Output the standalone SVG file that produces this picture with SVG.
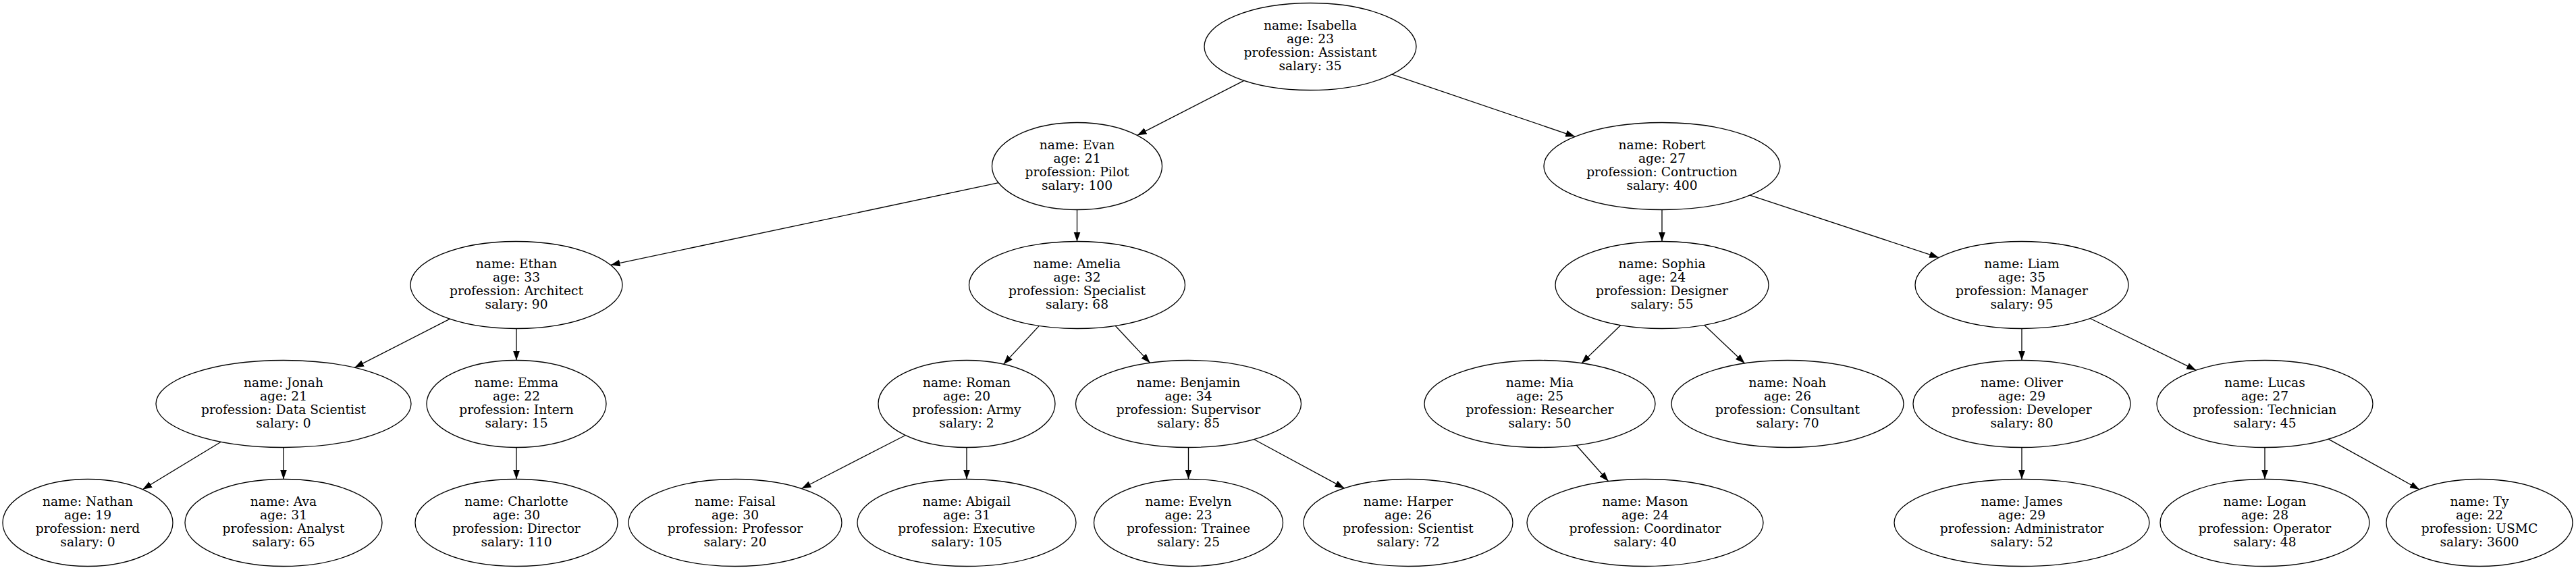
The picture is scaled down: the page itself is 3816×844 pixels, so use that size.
<svg xmlns="http://www.w3.org/2000/svg" width="3816" height="844" viewBox="0 0 3816 844">
<style>
.n ellipse{fill:none;stroke:#000;stroke-width:1.3}
.n text{font-family:"DejaVu Serif","Liberation Serif",serif;font-size:18.67px;text-anchor:middle;fill:#000}
.e line{stroke:#000;stroke-width:1.3;marker-end:url(#ah)}
</style>
<defs>
<marker id="ah" markerUnits="userSpaceOnUse" markerWidth="16" markerHeight="12" refX="14" refY="5" orient="auto"><path d="M0,0 L14,5 L0,10 z" fill="#000"/></marker>
</defs>
<rect width="3816" height="844" fill="#fff"/>
<g class="e" id="edges">
<line x1="1842.8" y1="119.3" x2="1684.6" y2="200.4"/>
<line x1="2062" y1="110.1" x2="2333.3" y2="202.3"/>
<line x1="1479.1" y1="270.7" x2="904.5" y2="392.4"/>
<line x1="1595.5" y1="310.5" x2="1595.5" y2="357.5"/>
<line x1="2462" y1="310.5" x2="2462" y2="357.5"/>
<line x1="2592.4" y1="289.1" x2="2872.1" y2="381.4"/>
<line x1="666.6" y1="472.2" x2="525.1" y2="544.4"/>
<line x1="765" y1="486.5" x2="765" y2="533.5"/>
<line x1="1539.4" y1="482.4" x2="1486.5" y2="539.4"/>
<line x1="1652.1" y1="482.3" x2="1703.7" y2="537.4"/>
<line x1="2400.8" y1="481.5" x2="2342.8" y2="537.9"/>
<line x1="2524.6" y1="481.2" x2="2584.6" y2="538"/>
<line x1="2995" y1="486.5" x2="2995" y2="533.5"/>
<line x1="3096.3" y1="471.5" x2="3253.2" y2="548.2"/>
<line x1="327.4" y1="654.2" x2="211.2" y2="724.7"/>
<line x1="420" y1="662.5" x2="420" y2="709.5"/>
<line x1="765" y1="662.5" x2="765" y2="709.5"/>
<line x1="1341.3" y1="644.5" x2="1187.4" y2="723.5"/>
<line x1="1432" y1="662.5" x2="1432" y2="709.5"/>
<line x1="1760.5" y1="662.5" x2="1760.5" y2="709.5"/>
<line x1="1857.5" y1="650.5" x2="1991.5" y2="722.9"/>
<line x1="2335.2" y1="659.2" x2="2382.7" y2="712.7"/>
<line x1="2995" y1="662.5" x2="2995" y2="709.5"/>
<line x1="3355" y1="662.5" x2="3355" y2="709.5"/>
<line x1="3449.2" y1="650.1" x2="3584" y2="724.7"/>
</g>
<g class="n" id="isabella"><ellipse cx="1941" cy="69" rx="157" ry="64.5"/><text y="44"><tspan x="1941">name: Isabella</tspan><tspan x="1941" dy="20">age: 23</tspan><tspan x="1941" dy="20">profession: Assistant</tspan><tspan x="1941" dy="20">salary: 35</tspan></text></g>
<g class="n" id="evan"><ellipse cx="1595.5" cy="246" rx="126" ry="64.5"/><text y="221"><tspan x="1595.5">name: Evan</tspan><tspan x="1595.5" dy="20">age: 21</tspan><tspan x="1595.5" dy="20">profession: Pilot</tspan><tspan x="1595.5" dy="20">salary: 100</tspan></text></g>
<g class="n" id="robert"><ellipse cx="2462" cy="246" rx="175" ry="64.5"/><text y="221"><tspan x="2462">name: Robert</tspan><tspan x="2462" dy="20">age: 27</tspan><tspan x="2462" dy="20">profession: Contruction</tspan><tspan x="2462" dy="20">salary: 400</tspan></text></g>
<g class="n" id="ethan"><ellipse cx="765" cy="422" rx="157" ry="64.5"/><text y="397"><tspan x="765">name: Ethan</tspan><tspan x="765" dy="20">age: 33</tspan><tspan x="765" dy="20">profession: Architect</tspan><tspan x="765" dy="20">salary: 90</tspan></text></g>
<g class="n" id="amelia"><ellipse cx="1595.5" cy="422" rx="160" ry="64.5"/><text y="397"><tspan x="1595.5">name: Amelia</tspan><tspan x="1595.5" dy="20">age: 32</tspan><tspan x="1595.5" dy="20">profession: Specialist</tspan><tspan x="1595.5" dy="20">salary: 68</tspan></text></g>
<g class="n" id="sophia"><ellipse cx="2462" cy="422" rx="158" ry="64.5"/><text y="397"><tspan x="2462">name: Sophia</tspan><tspan x="2462" dy="20">age: 24</tspan><tspan x="2462" dy="20">profession: Designer</tspan><tspan x="2462" dy="20">salary: 55</tspan></text></g>
<g class="n" id="liam"><ellipse cx="2995" cy="422" rx="158" ry="64.5"/><text y="397"><tspan x="2995">name: Liam</tspan><tspan x="2995" dy="20">age: 35</tspan><tspan x="2995" dy="20">profession: Manager</tspan><tspan x="2995" dy="20">salary: 95</tspan></text></g>
<g class="n" id="jonah"><ellipse cx="420" cy="598" rx="189" ry="64.5"/><text y="573"><tspan x="420">name: Jonah</tspan><tspan x="420" dy="20">age: 21</tspan><tspan x="420" dy="20">profession: Data Scientist</tspan><tspan x="420" dy="20">salary: 0</tspan></text></g>
<g class="n" id="emma"><ellipse cx="765" cy="598" rx="133" ry="64.5"/><text y="573"><tspan x="765">name: Emma</tspan><tspan x="765" dy="20">age: 22</tspan><tspan x="765" dy="20">profession: Intern</tspan><tspan x="765" dy="20">salary: 15</tspan></text></g>
<g class="n" id="roman"><ellipse cx="1432" cy="598" rx="131" ry="64.5"/><text y="573"><tspan x="1432">name: Roman</tspan><tspan x="1432" dy="20">age: 20</tspan><tspan x="1432" dy="20">profession: Army</tspan><tspan x="1432" dy="20">salary: 2</tspan></text></g>
<g class="n" id="benjamin"><ellipse cx="1760.5" cy="598" rx="167" ry="64.5"/><text y="573"><tspan x="1760.5">name: Benjamin</tspan><tspan x="1760.5" dy="20">age: 34</tspan><tspan x="1760.5" dy="20">profession: Supervisor</tspan><tspan x="1760.5" dy="20">salary: 85</tspan></text></g>
<g class="n" id="mia"><ellipse cx="2281" cy="598" rx="171" ry="64.5"/><text y="573"><tspan x="2281">name: Mia</tspan><tspan x="2281" dy="20">age: 25</tspan><tspan x="2281" dy="20">profession: Researcher</tspan><tspan x="2281" dy="20">salary: 50</tspan></text></g>
<g class="n" id="noah"><ellipse cx="2648" cy="598" rx="172" ry="64.5"/><text y="573"><tspan x="2648">name: Noah</tspan><tspan x="2648" dy="20">age: 26</tspan><tspan x="2648" dy="20">profession: Consultant</tspan><tspan x="2648" dy="20">salary: 70</tspan></text></g>
<g class="n" id="oliver"><ellipse cx="2995" cy="598" rx="161" ry="64.5"/><text y="573"><tspan x="2995">name: Oliver</tspan><tspan x="2995" dy="20">age: 29</tspan><tspan x="2995" dy="20">profession: Developer</tspan><tspan x="2995" dy="20">salary: 80</tspan></text></g>
<g class="n" id="lucas"><ellipse cx="3355" cy="598" rx="160" ry="64.5"/><text y="573"><tspan x="3355">name: Lucas</tspan><tspan x="3355" dy="20">age: 27</tspan><tspan x="3355" dy="20">profession: Technician</tspan><tspan x="3355" dy="20">salary: 45</tspan></text></g>
<g class="n" id="nathan"><ellipse cx="130" cy="774" rx="126" ry="64.5"/><text y="749"><tspan x="130">name: Nathan</tspan><tspan x="130" dy="20">age: 19</tspan><tspan x="130" dy="20">profession: nerd</tspan><tspan x="130" dy="20">salary: 0</tspan></text></g>
<g class="n" id="ava"><ellipse cx="420" cy="774" rx="146" ry="64.5"/><text y="749"><tspan x="420">name: Ava</tspan><tspan x="420" dy="20">age: 31</tspan><tspan x="420" dy="20">profession: Analyst</tspan><tspan x="420" dy="20">salary: 65</tspan></text></g>
<g class="n" id="charlotte"><ellipse cx="765" cy="774" rx="150" ry="64.5"/><text y="749"><tspan x="765">name: Charlotte</tspan><tspan x="765" dy="20">age: 30</tspan><tspan x="765" dy="20">profession: Director</tspan><tspan x="765" dy="20">salary: 110</tspan></text></g>
<g class="n" id="faisal"><ellipse cx="1089" cy="774" rx="158" ry="64.5"/><text y="749"><tspan x="1089">name: Faisal</tspan><tspan x="1089" dy="20">age: 30</tspan><tspan x="1089" dy="20">profession: Professor</tspan><tspan x="1089" dy="20">salary: 20</tspan></text></g>
<g class="n" id="abigail"><ellipse cx="1432" cy="774" rx="162" ry="64.5"/><text y="749"><tspan x="1432">name: Abigail</tspan><tspan x="1432" dy="20">age: 31</tspan><tspan x="1432" dy="20">profession: Executive</tspan><tspan x="1432" dy="20">salary: 105</tspan></text></g>
<g class="n" id="evelyn"><ellipse cx="1760.5" cy="774" rx="140" ry="64.5"/><text y="749"><tspan x="1760.5">name: Evelyn</tspan><tspan x="1760.5" dy="20">age: 23</tspan><tspan x="1760.5" dy="20">profession: Trainee</tspan><tspan x="1760.5" dy="20">salary: 25</tspan></text></g>
<g class="n" id="harper"><ellipse cx="2086" cy="774" rx="155" ry="64.5"/><text y="749"><tspan x="2086">name: Harper</tspan><tspan x="2086" dy="20">age: 26</tspan><tspan x="2086" dy="20">profession: Scientist</tspan><tspan x="2086" dy="20">salary: 72</tspan></text></g>
<g class="n" id="mason"><ellipse cx="2437" cy="774" rx="175" ry="64.5"/><text y="749"><tspan x="2437">name: Mason</tspan><tspan x="2437" dy="20">age: 24</tspan><tspan x="2437" dy="20">profession: Coordinator</tspan><tspan x="2437" dy="20">salary: 40</tspan></text></g>
<g class="n" id="james"><ellipse cx="2995" cy="774" rx="189" ry="64.5"/><text y="749"><tspan x="2995">name: James</tspan><tspan x="2995" dy="20">age: 29</tspan><tspan x="2995" dy="20">profession: Administrator</tspan><tspan x="2995" dy="20">salary: 52</tspan></text></g>
<g class="n" id="logan"><ellipse cx="3355" cy="774" rx="155" ry="64.5"/><text y="749"><tspan x="3355">name: Logan</tspan><tspan x="3355" dy="20">age: 28</tspan><tspan x="3355" dy="20">profession: Operator</tspan><tspan x="3355" dy="20">salary: 48</tspan></text></g>
<g class="n" id="ty"><ellipse cx="3673" cy="774" rx="138" ry="64.5"/><text y="749"><tspan x="3673">name: Ty</tspan><tspan x="3673" dy="20">age: 22</tspan><tspan x="3673" dy="20">profession: USMC</tspan><tspan x="3673" dy="20">salary: 3600</tspan></text></g>
</svg>
